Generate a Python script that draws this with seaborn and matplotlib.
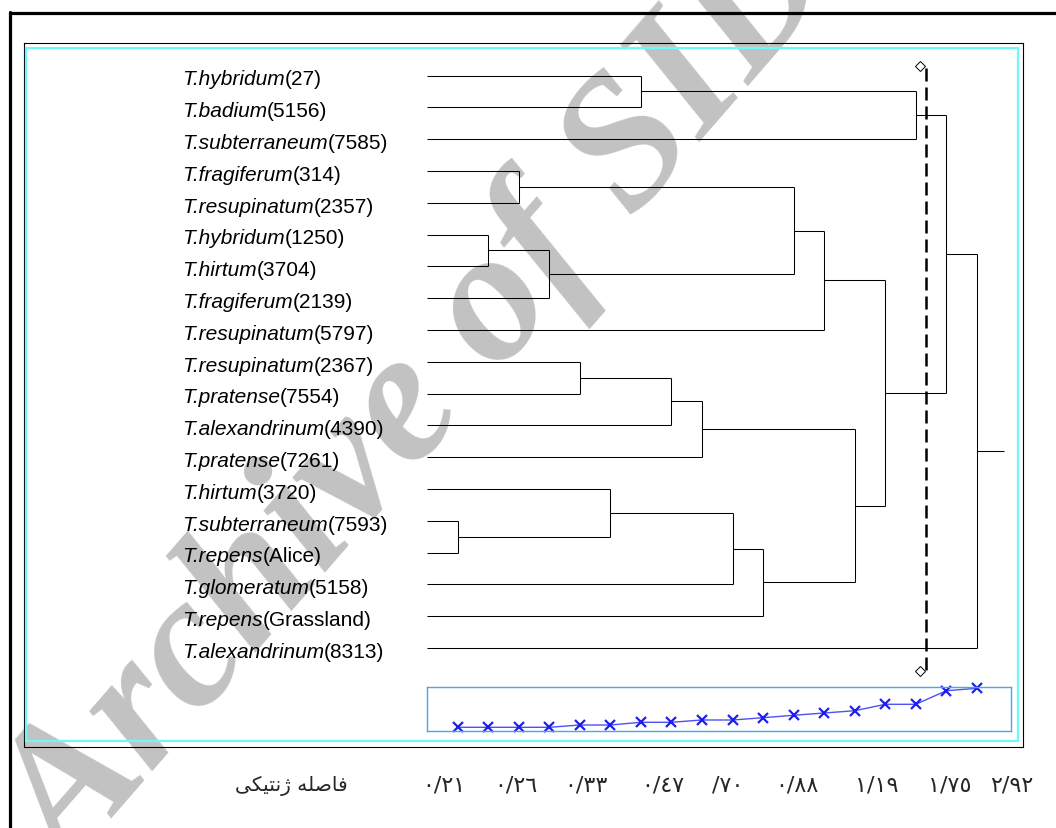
import matplotlib
matplotlib.use("Agg")
import matplotlib.pyplot as plt
import seaborn as sns
from matplotlib.lines import Line2D
from matplotlib.patches import Rectangle
from matplotlib.collections import LineCollection
import matplotlib.transforms as mtransforms

# ---------------- data ----------------
species = ["T.hybridum", "T.badium", "T.subterraneum", "T.fragiferum", "T.resupinatum",
           "T.hybridum", "T.hirtum", "T.fragiferum", "T.resupinatum", "T.resupinatum",
           "T.pratense", "T.alexandrinum", "T.pratense", "T.hirtum", "T.subterraneum",
           "T.repens", "T.glomeratum", "T.repens", "T.alexandrinum"]
accessions = ["27", "5156", "7585", "314", "2357", "1250", "3704", "2139", "5797", "2367",
              "7554", "4390", "7261", "3720", "7593", "Alice", "5158", "Grassland", "8313"]

# agglomeration schedule: ids 0..18 = leaves, id 19+k = cluster formed at row k
merge_a = [14, 5, 3, 20, 9, 13, 0, 23, 26, 24, 28, 21, 30, 27, 31, 25, 34, 35]
merge_b = [15, 6, 4, 7, 10, 19, 1, 11, 12, 16, 17, 22, 8, 29, 32, 2, 33, 18]
merge_step = [1, 2, 3, 4, 5, 6, 7, 8, 9, 10, 11, 12, 13, 14, 15, 16, 17, 18]
cut_level = 16.33

# fusion coefficient plot (inset)
fusion_step = [1, 2, 3, 4, 5, 6, 7, 8, 9, 10, 11, 12, 13, 14, 15, 16, 17, 18]
fusion_coef = [0.084, 0.084, 0.084, 0.084, 0.136, 0.136, 0.198, 0.198, 0.25, 0.25,
               0.302, 0.357, 0.409, 0.461, 0.607, 0.607, 0.916, 0.970]

scale_labels = ["٠/٢١", "٠/٢٦", "٠/٣٣", "٠/٤٧", "/٧٠", "٠/٨٨", "١/١٩", "١/٧٥", "٢/٩٢"]
# "فاصله ژنتیکی" (genetic distance) in shaped, visual (left-to-right) order
axis_title = "\uFBFD\uFB91\uFBFF\uFE98\uFEE7\uFB8A \uFEEA\uFEE0\uFEBB\uFE8E\uFED3"

# ---------------- layout ----------------
W, H = 1056, 829
X0, XSTEP = 427.0, 30.55      # pixel of step 0 and pixels per step
Y0, YSTEP = 76.5, 31.8        # pixel of leaf 0 and pixels per leaf
scale_label_pos = [0.56, 2.91, 5.20, 7.73, 9.85, 12.11, 14.73, 17.12, 19.15]
title_pos = -4.45
label_x = (182 - X0) / XSTEP
root_stub = 0.9

sns.set_theme(style="white")
plt.rcParams["font.family"] = ["Liberation Sans", "DejaVu Sans"]

fig = plt.figure(figsize=(W / 100, H / 100), dpi=100, facecolor="white")

# watermark (behind everything)
fig.text(422 / W, 1 - 402 / H, "Archive of SID", rotation=49, rotation_mode="anchor",
         fontsize=136, family="Liberation Serif", style="italic", weight="bold",
         color="#C2C2C2", ha="center", va="center", zorder=-5)

# main axes = inner black frame
L, R, T, B = 24, 1023, 44, 748
ax = fig.add_axes([L / W, 1 - B / H, (R - L) / W, (B - T) / H])
ax.set_facecolor("none")
ax.set_xlim((L - X0) / XSTEP, (R - X0) / XSTEP)
ax.set_ylim((B - Y0) / YSTEP, (T - Y0) / YSTEP)
ax.set_xticks([]); ax.set_yticks([])
for s in ax.spines.values():
    s.set_color("black"); s.set_linewidth(0.8); s.set_visible(True)

# dendrogram
n = len(species)
pos = {i: (0.0, float(i)) for i in range(n)}
segs = []
for k, (a, b, h) in enumerate(zip(merge_a, merge_b, merge_step)):
    ha_, ya = pos[a]
    hb, yb = pos[b]
    segs += [[(ha_, ya), (h, ya)], [(hb, yb), (h, yb)], [(h, ya), (h, yb)]]
    pos[n + k] = (h, (ya + yb) / 2)
rh, ry = pos[n + len(merge_step) - 1]
segs.append([(rh, ry), (rh + root_stub, ry)])
ax.add_collection(LineCollection(segs, colors="black", linewidths=0.75))

# leaf labels: italic species + upright accession
off = mtransforms.ScaledTranslation(0, -9.0 / 100, fig.dpi_scale_trans)
for i, (sp, acc) in enumerate(zip(species, accessions)):
    t1 = ax.text(label_x, i, sp, fontsize=15, family="Liberation Sans", style="italic",
                 ha="left", va="baseline", transform=ax.transData + off, color="black")
    ax.annotate("(" + acc + ")", xy=(1, 0), xycoords=t1, ha="left", va="bottom",
                fontsize=15, family="Liberation Sans", color="black")

# cut line with end markers
ax.plot([cut_level, cut_level], [-0.24, 18.82], color="black", lw=1.8,
        linestyle=(0, (5.2, 2.4)))
ax.plot([cut_level - 0.19, cut_level - 0.19], [-0.30, 18.73], linestyle="none",
        marker="D", markersize=5, mfc="white", mec="black", mew=0.7)

# bottom scale labels
xt = ax.get_xaxis_transform()
ty = (B - 786) / (B - T)
for p, lab in zip(scale_label_pos, scale_labels):
    ax.text(p, ty, lab, transform=xt, ha="center", va="center", fontsize=16,
            family="DejaVu Sans", clip_on=False)
ax.text(title_pos, ty, axis_title, transform=xt, ha="center", va="center",
        fontsize=14.5, family="DejaVu Sans", clip_on=False)

# inset fusion plot
iL, iR, iT, iB = 427, 1011, 688, 732
axin = fig.add_axes([iL / W, 1 - iB / H, (iR - iL) / W, (iB - iT) / H])
axin.set_facecolor("none")
sns.lineplot(x=fusion_step, y=fusion_coef, ax=axin, color="#5050F5", linewidth=1.0,
             marker="x", markersize=7.5, markeredgecolor="#2020EE", markeredgewidth=1.6,
             clip_on=False)
axin.set_xlim(0, (iR - iL) / XSTEP)
axin.set_ylim(0, 1)
axin.set_xticks([]); axin.set_yticks([])
axin.set_xlabel(""); axin.set_ylabel("")
for s in axin.spines.values():
    s.set_color("#3FA9F5"); s.set_linewidth(1.0); s.set_visible(True)

# cyan inner frame
fig.add_artist(Rectangle((26 / W, 1 - 742 / H), 992 / W, 693 / H, transform=fig.transFigure,
                         fill=False, ec="#70F8F8", lw=1.6, zorder=1))
# outer thick frame lines
fig.add_artist(Line2D([9.5 / W, 9.5 / W], [1 - 13 / H, 0], transform=fig.transFigure,
                      color="black", lw=2.3))
fig.add_artist(Line2D([9.5 / W, 1], [1 - 13.5 / H, 1 - 13.5 / H], transform=fig.transFigure,
                      color="black", lw=2.3))

fig.savefig("out.png", dpi=100, facecolor="white")
